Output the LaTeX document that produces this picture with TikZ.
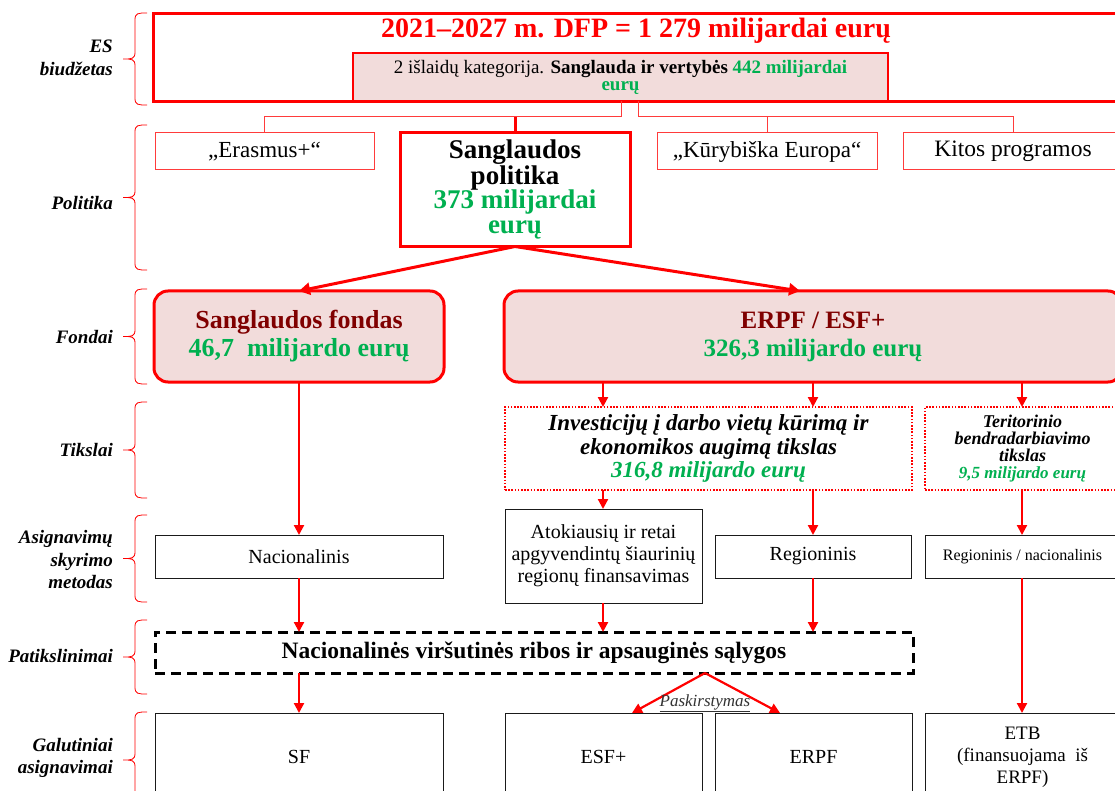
\documentclass[tikz,border=0pt]{standalone}
\usepackage{fontspec}
\setmainfont{Liberation Serif}
\usetikzlibrary{arrows.meta,calc}
\definecolor{myred}{HTML}{FF0000}
\definecolor{lred}{HTML}{FF3B3B}
\definecolor{pinkfill}{HTML}{F2DCDB}
\definecolor{mygreen}{HTML}{00B050}
\definecolor{darkred}{HTML}{800000}
\definecolor{boxblack}{HTML}{1A1A1A}
\definecolor{greytext}{HTML}{333333}
\newcommand{\fs}[2]{\fontsize{#1}{#2}\selectfont}
\newcommand{\sidebrace}[2]{%
  \draw[bracepen] (147,#1) .. controls (138,#1) and (135,#1) .. (135,{#1+7})
    -- (135,{(#1+#2)/2-7}) .. controls (135,{(#1+#2)/2}) and (132,{(#1+#2)/2}) .. (123,{(#1+#2)/2})
    .. controls (132,{(#1+#2)/2}) and (135,{(#1+#2)/2}) .. (135,{(#1+#2)/2+7})
    -- (135,{#2-7}) .. controls (135,#2) and (138,#2) .. (147,#2);}
\begin{document}
\begin{tikzpicture}[x=1pt,y=-1pt,
  base/.style={inner sep=0pt, outer sep=0pt, align=center},
  bigred/.style={base, draw=myred, line width=3pt},
  catbox/.style={base, draw=myred, line width=1.5pt, fill=pinkfill},
  thinred/.style={base, draw=lred, line width=1pt},
  blackbox/.style={base, draw=boxblack, line width=1pt},
  fund/.style={base, draw=myred, line width=3pt, fill=pinkfill, rounded corners=14pt},
  goal/.style={base, draw=myred, line width=1.5pt, dash pattern=on 1.6pt off 1.6pt},
  limitbox/.style={base, draw=black, line width=3pt, dash pattern=on 10pt off 6pt},
  arr/.style={draw=myred, line width=2.2pt, -{Triangle[length=10pt,width=10pt]}},
  thickarr/.style={draw=myred, line width=3pt, -{Triangle[length=11pt,width=12pt]}},
  conn/.style={draw=lred, line width=1pt},
  thickconn/.style={draw=myred, line width=3pt},
  bracepen/.style={draw=myred, line width=0.8pt},
  lab/.style={anchor=east, align=right, inner sep=0pt, font=\fs{19}{22.5}\bfseries\itshape}
]
\fill[white] (0,0) rectangle (1115,791);
\useasboundingbox (0,0) rectangle (1115,791);

% column coordinates
\coordinate (c1) at (299,0);
\coordinate (c2) at (603,0);
\coordinate (c3) at (813,0);
\coordinate (c4) at (1022,0);
\coordinate (t2) at (800,0);
\coordinate (cs) at (705,0);
\coordinate (a1) at (632,0);
\coordinate (a2) at (780,0);
\coordinate (jL) at (621,117);
\coordinate (jR) at (638,117);

% row labels
\node[lab] (l1) at (113,58) {ES\\biudžetas};
\node[lab] (l2) at (113,203) {Politika};
\node[lab] (l3) at (113,337) {Fondai};
\node[lab] (l4) at (113,450) {Tikslai};
\node[lab] (l5) at (113,560) {Asignavimų\\skyrimo\\metodas};
\node[lab] (l6) at (113,656) {Patikslinimai};
\node[lab] (l7) at (113,758) {Galutiniai\\asignavimai};

\sidebrace{13}{105}
\sidebrace{125}{270}
\sidebrace{289}{384}
\sidebrace{402}{498}
\sidebrace{515}{602}
\sidebrace{620}{694}
\sidebrace{712}{808}

% budget
\node[bigred, minimum width=972, minimum height=88] (es) at (639,58) {};
\node[base, text=myred, font=\fs{28}{30}\bfseries] (title) at (636,31) {2021–2027 m. DFP = 1 279 milijardai eurų};
\node[catbox, minimum width=535, minimum height=48, font=\fs{19}{17}] (cat) at (620.5,77)
  {2 išlaidų kategorija. \textbf{Sanglauda ir vertybės} \textcolor{mygreen}{\textbf{442 milijardai}}\\\textcolor{mygreen}{\textbf{eurų}}};

% policies
\node[thinred, minimum width=219, minimum height=37, font=\fs{23}{24}] (eras) at (264.5,151.5) {„Erasmus+“};
\node[bigred, minimum width=230, minimum height=114, font=\fs{27}{24.5}\bfseries] (pol) at (515,189.5)
  {Sanglaudos\\politika\\\textcolor{mygreen}{373 milijardai}\\\textcolor{mygreen}{eurų}};
\node[thinred, minimum width=220, minimum height=37, font=\fs{23}{24}] (kur) at (767,151.5) {„Kūrybiška Europa“};
\node[thinred, minimum width=220, minimum height=37, font=\fs{23.5}{24}] (kit) at (1013,151.5) {Kitos programos};

\draw[conn] (jL |- cat.south) -- (jL) -| (eras.north);
\draw[thickconn] (pol.north |- jL) -- (pol.north);
\draw[conn] (jR |- cat.south) -- (jR) -| (kit.north);
\draw[conn] (jR -| kur.north) -- (kur.north);

% funds
\node[fund, minimum width=290, minimum height=91, font=\fs{26}{28}\bfseries] (sf) at (299,336.5)
  {\textcolor{darkred}{Sanglaudos fondas}\\\textcolor{mygreen}{46,7\ \ milijardo eurų}};
\node[fund, minimum width=618, minimum height=91, font=\fs{25}{28}\bfseries] (erpf) at (813,336.5)
  {\textcolor{darkred}{ERPF / ESF+}\\\textcolor{mygreen}{326,3 milijardo eurų}};

\draw[thickarr] (pol.south) -- (sf.north);
\draw[thickarr] (pol.south) -- (erpf.north -| t2);

% goals
\node[goal, minimum width=407, minimum height=83, font=\fs{23}{23.5}\bfseries\itshape] (tinv) at (708.5,448.5)
  {Investicijų į darbo vietų kūrimą ir\\ekonomikos augimą tikslas\\\textcolor{mygreen}{316,8 milijardo eurų}};
\node[goal, minimum width=195, minimum height=83, font=\fs{18}{17}\bfseries\itshape] (tter) at (1022.5,448.5)
  {Teritorinio\\bendradarbiavimo\\tikslas\\\textcolor{mygreen}{\fs{17}{17}\bfseries\itshape 9,5 milijardo eurų}};

\draw[arr] (erpf.south -| c2) -- (tinv.north -| c2);
\draw[arr] (erpf.south -| c3) -- (tinv.north -| c3);
\draw[arr] (erpf.south -| c4) -- (tter.north -| c4);

% allocation methods
\node[blackbox, minimum width=288, minimum height=43, font=\fs{20}{22}] (nac) at (299,556.5) {Nacionalinis};
\node[blackbox, minimum width=197, minimum height=94, font=\fs{20}{22}] (atok) at (603.5,556)
  {Atokiausių ir retai\\apgyvendintų šiaurinių\\regionų finansavimas};
\node[blackbox, minimum width=196, minimum height=43, font=\fs{20}{22}] (reg) at (813,556.5) {Regioninis};
\node[blackbox, minimum width=195, minimum height=43, font=\fs{16}{18}] (regnac) at (1022.5,556.5) {Regioninis / nacionalinis};

\draw[arr] (sf.south) -- (nac.north);
\draw[arr] (tinv.south -| c2) -- (atok.north -| c2);
\draw[arr] (tinv.south -| c3) -- (reg.north -| c3);
\draw[arr] (tter.south -| c4) -- (regnac.north -| c4);

% refinements
\node[limitbox, minimum width=758, minimum height=41, font=\fs{23.5}{24}\bfseries] (lim) at (534,652.5)
  {Nacionalinės viršutinės ribos ir apsauginės sąlygos};

\draw[arr] (nac.south) -- (lim.north -| c1);
\draw[arr] (atok.south -| c2) -- (lim.north -| c2);
\draw[arr] (reg.south -| c3) -- (lim.north -| c3);

% final allocations
\node[blackbox, minimum width=288, minimum height=88, font=\fs{20}{22}] (sfb) at (299,757) {SF};
\node[blackbox, minimum width=197, minimum height=88, font=\fs{20}{22}] (esfb) at (603.5,757) {ESF+};
\node[blackbox, minimum width=197, minimum height=88, font=\fs{20}{22}] (erpfb) at (813.5,757) {ERPF};
\node[blackbox, minimum width=195, minimum height=88, font=\fs{19}{22}] (etb) at (1022.5,757) {ETB\\(finansuojama\ \ iš\\ERPF)};

\draw[arr] (regnac.south -| c4) -- (etb.north -| c4);
\draw[arr] (lim.south -| c1) -- (sfb.north -| c1);
\draw[arr] (lim.south -| cs) -- (esfb.north -| a1);
\draw[arr] (lim.south -| cs) -- (erpfb.north -| a2);
\node[base, text=greytext, font=\fs{17}{18}\itshape] (pask) at (705,703) {\underline{Paskirstymas}};
\end{tikzpicture}
\end{document}
